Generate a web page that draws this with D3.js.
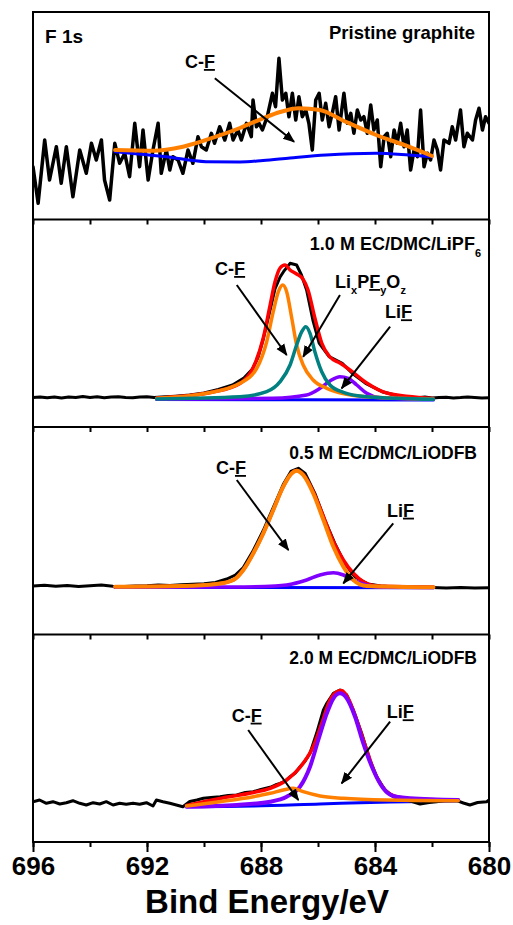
<!DOCTYPE html>
<html><head><meta charset="utf-8">
<script src="https://cdn.jsdelivr.net/npm/d3@7"></script>
<style>
body{margin:0;background:#fff;}
text{font-family:"Liberation Sans",Arial,sans-serif;font-weight:bold;fill:#000;}
</style>
</head><body>
<svg id="chart" width="513" height="925"></svg>
<script>
// ---------- axis ----------
const xTicks = [696,694,692,690,688,686,684,682,680];
const xLabels = [696,692,688,684,680];
const xTitle = "Bind Energy/eV";

// ---------- panel 1 : Pristine graphite ----------
const p1Raw = [[696.00,52.8],[695.82,16.2],[695.59,79.5],[695.42,39.5],[695.18,72.8],[695.01,36.2],[694.83,72.8],[694.60,22.8],[694.36,69.5],[694.13,46.2],[693.95,76.2],[693.78,59.5],[693.60,79.5],[693.49,39.5],[693.31,19.5],[693.13,76.2],[692.96,56.2],[692.78,66.2],[692.61,42.8],[692.43,96.2],[692.26,52.8],[692.14,89.5],[691.96,39.5],[691.79,69.5],[691.61,96.2],[691.50,46.2],[691.32,69.5],[691.20,49.5],[691.09,62.8],[690.91,59.5],[690.74,46.2],[690.56,69.5],[690.39,56.2],[690.21,82.8],[690.09,72.8],[689.92,69.5],[689.74,86.2],[689.63,76.2],[689.45,92.8],[689.27,79.5],[689.10,96.2],[688.98,79.5],[688.81,89.5],[688.69,79.5],[688.51,96.2],[688.34,82.8],[688.28,119.5],[688.16,92.8],[688.07,96.2],[687.95,89.5],[687.78,102.8],[687.60,126.2],[687.49,112.8],[687.37,161.2],[687.25,119.5],[687.13,126.2],[687.02,102.8],[686.90,126.2],[686.78,99.5],[686.67,122.8],[686.55,102.8],[686.43,109.5],[686.32,96.2],[686.20,69.5],[686.08,119.5],[685.96,126.2],[685.85,99.5],[685.73,116.2],[685.61,92.8],[685.50,106.2],[685.38,122.8],[685.26,89.5],[685.09,126.2],[684.97,96.2],[684.85,106.2],[684.74,86.2],[684.62,109.5],[684.50,99.5],[684.39,102.8],[684.27,86.2],[684.15,114.5],[684.04,89.5],[683.92,99.5],[683.80,52.8],[683.68,82.8],[683.57,86.2],[683.45,62.8],[683.33,89.5],[683.22,76.2],[683.10,96.2],[682.98,72.8],[682.87,89.5],[682.75,49.5],[682.63,69.5],[682.51,62.8],[682.40,109.5],[682.28,52.8],[682.16,66.2],[682.05,59.5],[681.93,79.5],[681.81,69.5],[681.70,49.5],[681.58,79.5],[681.40,76.2],[681.29,92.8],[681.17,79.5],[681.00,109.5],[680.88,72.8],[680.76,86.2],[680.58,79.5],[680.47,99.5],[680.35,111.2],[680.23,89.5],[680.12,102.8],[680.00,96.2]];
const p1CF = [[693.12,69.5],[691.79,68.8],[690.74,72.8],[689.58,82.8],[688.74,91.5],[687.93,101.2],[687.33,107.5],[686.67,111.2],[685.93,109.5],[685.16,99.5],[683.96,84.5],[682.81,72.8],[682.00,63.5]];
const p1Base = [[693.12,67.8],[691.33,62.8],[689.93,57.8],[688.74,57.5],[687.93,59.0],[686.98,61.5],[685.72,64.5],[683.96,66.2],[682.81,64.5],[682.00,62.8]];

// ---------- panel 2 : 1.0 M EC/DMC/LiPF6 ----------
const p2Raw = [[696.0,29.5],[695.75,30.1],[695.5,29.2],[695.25,30.0],[695.0,29.0],[694.75,29.9],[694.5,29.4],[694.25,30.4],[694.0,29.6],[693.75,30.2],[693.5,29.3],[693.25,29.9],[693.0,30.3],[692.75,29.5],[692.5,29.2],[692.25,30.1],[692.0,30.3],[691.75,29.6],[691.5,29.9],[691.0,30.8],[690.5,32.0],[690.0,34.0],[689.5,37.5],[689.0,42.0],[688.6,49.0],[688.3,58.0],[688.1,70.0],[687.92,88],[687.68,117],[687.51,138],[687.33,150],[687.21,155.3],[686.98,163.7],[686.75,162],[686.58,152],[686.40,137],[686.18,107],[685.96,84],[685.61,70.3],[685.15,63.7],[684.80,53.7],[684.33,43.7],[683.75,35.3],[683.16,31],[682.75,29.8],[682.5,29.3],[682.25,29.9],[682.0,29.0],[681.75,29.6],[681.5,29.8],[681.25,29.1],[681.0,29.4],[680.75,30.0],[680.5,29.5],[680.25,29.0],[680.0,29.3]];
const p2Env = [[691.65,29],[689.68,35],[688.74,43.5],[688.28,59],[687.92,89],[687.68,122],[687.51,145],[687.33,159],[687.16,162],[686.98,157],[686.75,153],[686.53,148],[686.35,137],[686.11,109],[685.87,84],[685.58,70],[685.23,64],[684.88,57],[684.29,44],[683.59,34],[681.96,28.5]];
const p2CF = [[691.66,28.7],[689.91,33.7],[688.74,43.7],[688.15,58.7],[687.80,85.3],[687.57,115.3],[687.39,135.3],[687.24,142],[687.10,135.3],[686.92,108.7],[686.75,82],[686.52,62],[686.17,47],[685.69,38.7],[684.99,32.7],[684.06,29.7],[681.95,28]];
const p2LiPFO = [[691.66,28],[688.74,30.3],[687.80,35.3],[687.33,45.3],[686.98,62],[686.75,82],[686.57,95.3],[686.43,100.3],[686.28,93.7],[686.11,75.3],[685.87,55.3],[685.58,42],[685.11,34.7],[684.29,30.3],[681.95,27.7]];
const p2LiF = [[691.66,27.7],[687.57,28.7],[686.40,32],[685.93,38.7],[685.58,46],[685.23,50.3],[684.94,48.7],[684.64,42],[684.29,33.7],[683.82,29.3],[681.95,27.7]];
const p2Base = [[691.66,27.5],[687.0,27.2],[681.95,27.0]];

// ---------- panel 3 : 0.5 M EC/DMC/LiODFB ----------
const p3Raw = [[696.0,48.5],[695.6,49.2],[695.2,48.3],[694.8,49.0],[694.4,48.0],[694.0,48.8],[693.6,49.5],[693.2,48.2],[692.8,48.0],[692.4,48.6],[692.0,48.8],[691.6,49.4],[691.2,49.0],[690.8,49.8],[690.4,50.2],[690.0,50.8],[689.6,52.0],[689.2,55.5],[688.9,59.5],[688.62,67],[688.27,84],[687.92,104],[687.57,127],[687.22,150],[686.95,163],[686.69,166.2],[686.45,161],[686.11,141.2],[685.76,114.5],[685.41,91.2],[685.06,71.2],[684.71,57.8],[684.24,50.5],[683.8,48.5],[683.4,47.8],[683.0,47.2],[682.5,47.6],[682.0,46.9],[681.5,46.5],[681.0,47.1],[680.5,46.4],[680.0,46.8]];
const p3Env = [[693.12,47.8],[690.73,48.5],[689.55,50.5],[688.97,54.5],[688.62,64.5],[688.27,81.2],[687.92,101.2],[687.57,124.5],[687.22,147.8],[686.92,161.2],[686.75,164],[686.52,160],[686.17,143],[685.81,118],[685.46,93],[685.11,74.5],[684.76,61.2],[684.41,52.8],[683.95,48.5],[681.95,47.5]];
const p3CF = [[693.12,47.8],[690.73,48.5],[689.55,50.5],[688.97,54.5],[688.62,64.5],[688.27,81.2],[687.92,101.2],[687.57,124.5],[687.22,147.8],[686.92,161.2],[686.75,163.8],[686.52,159.5],[686.17,141.2],[685.81,114.5],[685.46,87.8],[685.11,67.8],[684.76,54.5],[684.29,48.5],[681.95,47.2]];
const p3LiF = [[693.12,47.3],[689.0,47.5],[687.5,48.5],[687.1,49.5],[686.4,54.5],[685.93,59.5],[685.46,61.8],[685.11,59.5],[684.76,54.5],[684.29,49.5],[683.71,47.2],[681.95,47]];
const p3Base = [[693.12,47],[681.95,46.8]];

// ---------- panel 4 : 2.0 M EC/DMC/LiODFB ----------
const p4Raw = [[696.00,40.3],[695.77,42.0],[695.53,38.7],[695.30,40.3],[695.06,38.0],[694.83,39.3],[694.60,41.3],[694.36,38.7],[694.13,37.0],[693.89,39.3],[693.66,38.0],[693.43,40.3],[693.19,37.0],[692.96,38.7],[692.73,37.7],[692.49,38.7],[692.26,37.7],[692.02,39.3],[691.79,36.0],[691.67,42.0],[691.44,40.3],[691.20,38.7],[690.97,37.0],[690.74,35.3],[690.5,40.5],[690.25,42.0],[690.02,43.7],[689.75,44.5],[689.44,45.3],[689.15,46.5],[688.85,47],[688.55,49.5],[688.27,50.3],[688.0,52.5],[687.68,54.7],[687.5,57],[687.33,58.7],[687.15,61],[686.98,65.3],[686.8,69],[686.63,75.3],[686.45,81],[686.28,88.7],[686.05,108.7],[685.81,132],[685.69,138.7],[685.46,148.7],[685.23,152],[684.99,147],[684.76,132],[684.47,108.7],[684.18,82],[683.94,65.3],[683.65,52],[683.36,45.3],[683.01,43],[682.7,40.5],[682.42,38],[682.1,39.5],[681.84,40.3],[681.5,41.5],[681.13,41.3],[680.9,39.0],[680.67,37],[680.4,39.5],[680.08,40.3],[680.0,42]];
const p4Env = [[690.61,36.5],[689.44,43.5],[688.27,49.5],[687.68,53.7],[687.10,62],[686.52,78.7],[686.17,95.3],[685.87,118.7],[685.58,142],[685.34,150.3],[685.17,151.5],[684.94,143.7],[684.64,122],[684.29,92],[684.00,68.7],[683.65,52],[683.24,45.3],[682.42,42.7],[681.08,42]];
const p4CF = [[690.61,36],[689.44,40.3],[688.27,45.3],[687.68,48.7],[687.22,52],[686.87,53.7],[686.52,50.3],[685.93,46],[685.11,43.7],[683.59,42],[681.08,41.3]];
const p4LiF = [[690.61,35.3],[688.85,37],[687.68,40.3],[687.10,45.3],[686.63,55.3],[686.28,75.3],[685.99,102],[685.69,128.7],[685.46,143.7],[685.23,148.7],[684.99,143.7],[684.70,125.3],[684.41,98.7],[684.06,72],[683.71,53.7],[683.36,46],[682.77,43.7],[681.08,42]];
const p4Base = [[690.61,35.3],[688.27,36],[685.93,38],[683.47,40],[681.08,41]];

// ---------- colours ----------
const C = {raw:"#000000", env:"#ff0000", cf:"#ff8000", lipfo:"#008080", lif:"#8000ff", base:"#0000ff"};

// ---------- layout ----------
const L = 33, R = 489, T = 12, B = 842, nP = 4;
const pH = (B - T) / nP;
const svg = d3.select("#chart");
const x = d3.scaleLinear().domain([696, 680]).range([L, R]);

const defs = svg.append("defs");
defs.append("marker").attr("id","ah").attr("viewBox","0 0 10 10")
  .attr("refX",9).attr("refY",5).attr("markerWidth",12).attr("markerHeight",12)
  .attr("markerUnits","userSpaceOnUse").attr("orient","auto")
  .append("path").attr("d","M0,1 L10,5 L0,9 Z").attr("fill","#000");

const panels = [
  { series:[[p1Raw,C.raw,3.5,"lin"],[p1Base,C.base,3,"smooth"],[p1CF,C.cf,4,"smooth"]],
    labels:[ {E:690.67,I:151.5,parts:[["C-"],["F","u"]]} ],
    arrows:[[689.62,141.2,686.84,77.8]] },
  { series:[[p2Base,C.base,3,"smooth"],[p2Raw,C.raw,3,"lin"],[p2Env,C.env,3.5,"smooth"],[p2LiF,C.lif,3.5,"smooth"],[p2CF,C.cf,3.5,"smooth"],[p2LiPFO,C.lipfo,3.5,"smooth"]],
    labels:[ {E:689.61,I:152,parts:[["C-"],["F","u"]]},
             {E:685.40,I:139,parts:[["Li"],["x","sub"],["P","up"],["F","u"],["y","sub"],["O","up"],["z","sub"]]},
             {E:683.65,I:108.7,parts:[["Li"],["F","u"]]} ],
    arrows:[[688.85,142,687.10,72],[685.23,132,686.52,70.3],[683.47,100.3,685.17,38.7]] },
  { series:[[p3Base,C.base,3,"smooth"],[p3Raw,C.raw,3,"lin"],[p3Env,C.env,3.5,"smooth"],[p3LiF,C.lif,3.5,"smooth"],[p3CF,C.cf,4,"smooth"]],
    labels:[ {E:689.58,I:160.5,parts:[["C-"],["F","u"]]},
             {E:683.58,I:117.8,parts:[["Li"],["F","u"]]} ],
    arrows:[[688.85,154.5,687.04,84.5],[683.36,111.2,685.11,51.2]] },
  { series:[[p4Base,C.base,3,"smooth"],[p4Raw,C.raw,3,"lin"],[p4Env,C.env,3.5,"smooth"],[p4LiF,C.lif,4,"smooth"],[p4CF,C.cf,3.5,"smooth"]],
    labels:[ {E:689.03,I:120.3,parts:[["C-"],["F","u"]]},
             {E:683.59,I:123.7,parts:[["Li"],["F","u"]]} ],
    arrows:[[688.45,112,686.69,42],[683.47,120.3,685.17,58.7]] }
];

panels.forEach((p, i) => {
  const top = T + i * pH, bot = top + pH;
  const y = d3.scaleLinear().domain([0, pH]).range([bot, top]);
  const cid = "clip" + i;
  defs.append("clipPath").attr("id", cid).append("rect")
    .attr("x", L).attr("y", top).attr("width", R - L).attr("height", pH);
  const g = svg.append("g").attr("clip-path", `url(#${cid})`);
  p.series.forEach(([data, col, w, kind]) => {
    const sorted = data.slice().sort((a, b) => b[0] - a[0]);
    const line = d3.line().x(d => x(d[0])).y(d => y(d[1]))
      .curve(kind === "lin" ? d3.curveLinear : d3.curveMonotoneX);
    g.append("path").datum(sorted).attr("d", line)
      .attr("fill","none").attr("stroke", col).attr("stroke-width", w)
      .attr("stroke-linejoin","round").attr("stroke-linecap","round");
  });
  p.arrows.forEach(([e1, i1, e2, i2]) => {
    svg.append("line").attr("x1", x(e1)).attr("y1", y(i1)).attr("x2", x(e2)).attr("y2", y(i2))
      .attr("stroke","#000").attr("stroke-width",2).attr("marker-end","url(#ah)");
  });
  p.labels.forEach(lb => {
    const t = svg.append("text").attr("x", x(lb.E)).attr("y", y(lb.I)).attr("font-size", 18);
    lb.parts.forEach(([s, mode]) => {
      const ts = t.append("tspan").text(s);
      if (mode === "u") ts.attr("text-decoration","underline");
      if (mode === "sub") ts.attr("font-size", 11).attr("dy", 6);
      if (mode === "up") ts.attr("dy", -6);
    });
  });
  if (i > 0) {
    svg.append("g").attr("transform", `translate(0,${top})`)
      .call(d3.axisBottom(x).tickValues(xTicks).tickSize(5).tickSizeOuter(0).tickFormat(""))
      .call(a => a.select(".domain").remove())
      .selectAll("line").attr("stroke-width", 2);
  }
  if (i < nP - 1) {
    svg.append("line").attr("x1", L).attr("x2", R).attr("y1", bot).attr("y2", bot)
      .attr("stroke","#000").attr("stroke-width",2);
  }
});

// panel titles
svg.append("text").attr("x", 45).attr("y", 43).attr("font-size", 19).text("F 1s");
svg.append("text").attr("x", 475).attr("y", 38.5).attr("font-size", 18.5).attr("text-anchor","end").text("Pristine graphite");
const t2 = svg.append("text").attr("x", 481).attr("y", T + pH + 30.5).attr("font-size", 18).attr("text-anchor","end");
t2.append("tspan").text("1.0 M EC/DMC/LiPF");
t2.append("tspan").attr("font-size", 11).attr("dy", 7).text("6");
svg.append("text").attr("x", 477).attr("y", T + 2*pH + 31.5).attr("font-size", 17.5).attr("text-anchor","end").text("0.5 M EC/DMC/LiODFB");
svg.append("text").attr("x", 477).attr("y", T + 3*pH + 29).attr("font-size", 17.5).attr("text-anchor","end").text("2.0 M EC/DMC/LiODFB");

// frame
svg.append("rect").attr("x", L).attr("y", T).attr("width", R - L).attr("height", B - T)
  .attr("fill","none").attr("stroke","#000").attr("stroke-width",2);

// bottom axis: minor + major
svg.append("g").attr("transform", `translate(0,${B})`)
  .call(d3.axisBottom(x).tickValues(xTicks).tickSize(5).tickSizeOuter(0).tickFormat(""))
  .call(a => a.select(".domain").remove())
  .selectAll("line").attr("stroke-width", 2);
const ax = svg.append("g").attr("transform", `translate(0,${B})`)
  .call(d3.axisBottom(x).tickValues(xLabels).tickSize(10).tickSizeOuter(0).tickPadding(4.5).tickFormat(d3.format("d")));
ax.select(".domain").remove();
ax.selectAll("line").attr("stroke-width", 2);
ax.selectAll("text").attr("font-size", 26).attr("font-family", '"Liberation Sans",Arial,sans-serif').attr("font-weight","bold").attr("fill","#000");

svg.append("text").attr("x", 267).attr("y", 913).attr("text-anchor","middle").attr("font-size", 33).text(xTitle);
</script>
</body></html>
